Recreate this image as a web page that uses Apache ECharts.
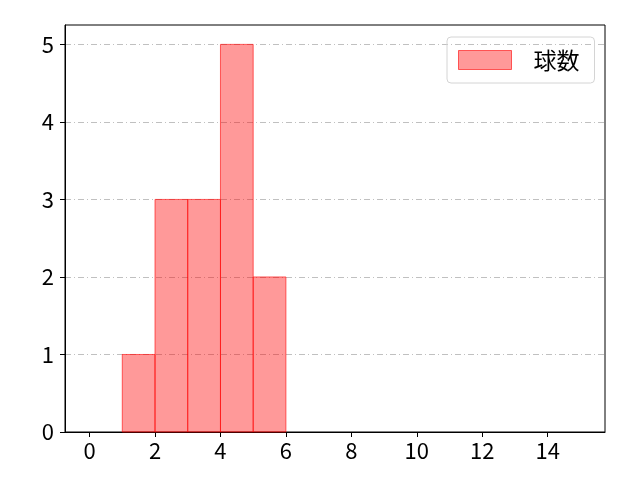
<!DOCTYPE html>
<html>
<head>
<meta charset="utf-8">
<script src="https://cdn.jsdelivr.net/npm/echarts@6/dist/echarts.min.js"></script>
<style>
  html, body { margin: 0; padding: 0; background: #fff; }
  #chart { width: 640px; height: 480px; }
</style>
</head>
<body>
<div id="chart"></div>
<script>
// histogram bins: left edge, right edge, count
const binStarts = [1, 2, 3, 4, 5];
const binEnds = [2, 3, 4, 5, 6];
const counts = [1, 3, 3, 5, 2];
const seriesName = "球数";
const xTicks = [0, 2, 4, 6, 8, 10, 12, 14];
const yTicks = [0, 1, 2, 3, 4, 5];

const fill = "rgba(255, 0, 0, 0.4)";
const edge = "rgba(255, 0, 0, 0.6)";
const font = "'Noto Sans CJK JP', 'Noto Sans', sans-serif";

const chart = echarts.init(document.getElementById("chart"));

const data = counts.map((c, i) => [binStarts[i], binEnds[i], c]);

chart.setOption({
  animation: false,
  textStyle: { fontFamily: font },
  grid: {
    left: 65, right: 35, top: 25, bottom: 48,
    show: true, borderColor: "#000", borderWidth: 1,
  },
  legend: {
    data: [{ name: seriesName, icon: "rect" }],
    left: 447, top: 37,
    itemWidth: 53, itemHeight: 19,
    padding: [11, 15, 11, 11],
    borderColor: "#d4d4d4", borderWidth: 1, borderRadius: 4,
    itemStyle: { borderWidth: 1, borderColor: edge },
    textStyle: { fontSize: 23, lineHeight: 24, color: "#000", padding: [0, 0, 0, 17] },
  },
  xAxis: {
    type: "value",
    min: -0.75, max: 15.75,
    splitLine: { show: false },
    axisLine: { onZero: false, lineStyle: { color: "#000" } },
    axisTick: { show: true, length: 5, customValues: xTicks, lineStyle: { color: "#000" } },
    axisLabel: { customValues: xTicks, fontSize: 22, color: "#000", margin: 8 },
  },
  yAxis: {
    type: "value",
    min: 0, max: 5.25, interval: 1,
    axisLine: { show: true, onZero: false, lineStyle: { color: "#000" } },
    axisTick: { show: true, length: 5, customValues: yTicks, lineStyle: { color: "#000" } },
    axisLabel: { customValues: yTicks, fontSize: 22, color: "#000", margin: 11 },
    splitLine: {
      show: true,
      lineStyle: { color: "#b0b0b0", width: 0.8, type: [6, 3, 1, 3] },
    },
  },
  series: [{
    name: seriesName,
    type: "custom",
    itemStyle: { color: fill, borderColor: edge, borderWidth: 1 },
    encode: { x: [0, 1], y: 2 },
    renderItem: (params, api) => {
      const p0 = api.coord([api.value(0), api.value(2)]);
      const p1 = api.coord([api.value(1), 0]);
      return {
        type: "rect",
        shape: { x: p0[0], y: p0[1], width: p1[0] - p0[0], height: p1[1] - p0[1] },
        style: { fill: fill, stroke: edge, lineWidth: 1 },
      };
    },
    data: data,
  }],
});
</script>
</body>
</html>
